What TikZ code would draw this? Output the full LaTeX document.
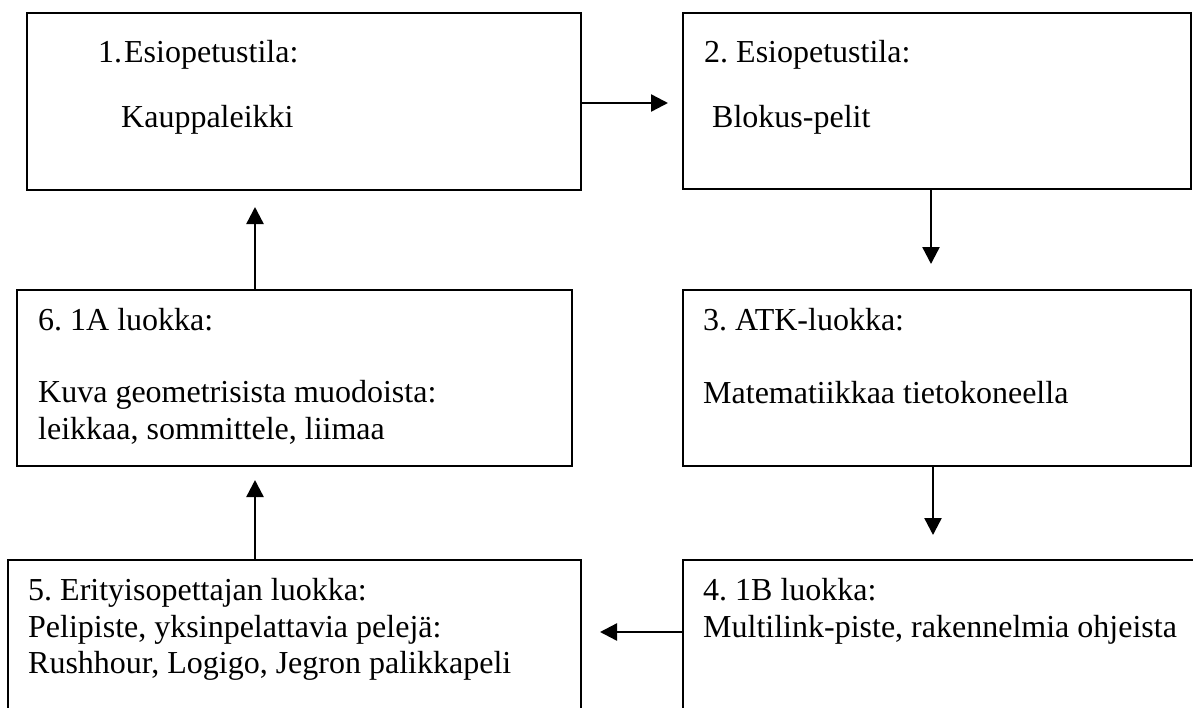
\documentclass[tikz,border=0pt]{standalone}
\usepackage{fontspec}
\setmainfont{Liberation Serif}
\usetikzlibrary{arrows.meta}
\begin{document}
\frenchspacing
\begin{tikzpicture}[x=1pt,y=-1pt,
  box/.style={draw=black, line width=1.9pt, rectangle, anchor=north west, inner sep=0pt, outer sep=0pt},
  txt/.style={anchor=base west, inner sep=0pt, font=\fontsize{32}{37}\selectfont},
  arr/.style={line width=2.4pt, -{Triangle[length=17pt,width=17pt]}}]
\path[use as bounding box] (0,0) rectangle (1193,707);
\clip (0,0) rectangle (1193,707);
\fill[white] (0,0) rectangle (1193,707);
% boxes
\node[box, minimum width=554pt, minimum height=177pt] (b1) at (27,13) {};
\node[box, minimum width=508pt, minimum height=176pt] (b2) at (683,13) {};
\node[box, minimum width=555pt, minimum height=176pt] (b6) at (17,290) {};
\node[box, minimum width=508pt, minimum height=176pt] (b3) at (683,290) {};
\node[box, minimum width=573pt, minimum height=180pt] (b5) at (8,560) {};
\node[box, minimum width=530pt, minimum height=180pt] (b4) at (683,560) {};
% texts
\node[txt] (t1a) at (98,62) {1.\kern2pt Esiopetustila:};
\node[txt] (t1b) at (121,127) {Kauppaleikki};
\node[txt] (t2a) at (704,62) {2. Esiopetustila:};
\node[txt] (t2b) at (712,127) {Blokus-pelit};
\node[txt] (t3a) at (703,330) {3. ATK-luokka:};
\node[txt] (t3b) at (703,403) {Matematiikkaa tietokoneella};
\node[txt] (t6a) at (38,330) {6. 1A luokka:};
\node[txt] (t6b) at (38,402) {Kuva geometrisista muodoista:};
\node[txt] (t6c) at (38,439) {leikkaa, sommittele, liimaa};
\node[txt] (t5a) at (28,600) {5. Erityisopettajan luokka:};
\node[txt] (t5b) at (28,637) {Pelipiste, yksinpelattavia pelejä:};
\node[txt] (t5c) at (28,673) {Rushhour, Logigo, Jegron palikkapeli};
\node[txt] (t4a) at (703,600) {4. 1B luokka:};
\node[txt] (t4b) at (703,637) {Multilink-piste, rakennelmia ohjeista};
% connectors
\draw[arr, shorten >=15pt] ([yshift=-1.5pt]b1.east) -- ([yshift=-2pt]b2.west);
\draw[arr, shorten >=26pt] ([xshift=-6pt]b2.south) -- ([xshift=-6pt]b3.north);
\draw[arr, shorten >=25pt] ([xshift=-4pt]b3.south) -- ([xshift=-15pt]b4.north);
\draw[arr, shorten >=19pt] ([yshift=18pt]b4.west) -- ([yshift=18pt]b5.east);
\draw[arr, shorten >=14pt] ([xshift=-39.5pt]b5.north) -- ([xshift=-39.5pt]b6.south);
\draw[arr, shorten >=17pt] ([xshift=-39.5pt]b6.north) -- ([xshift=-49pt]b1.south);
\end{tikzpicture}
\end{document}
